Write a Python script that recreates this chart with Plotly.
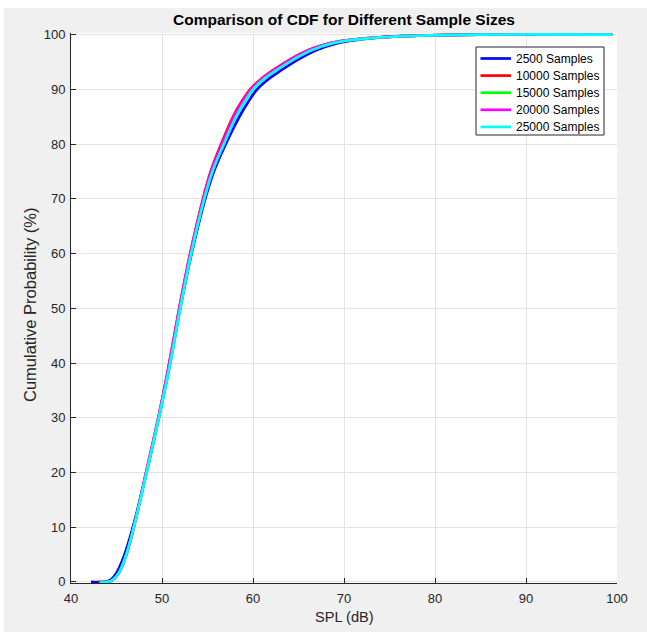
import plotly.graph_objects as go

# Cumulative probability levels (%) shared by all curves
pct = [0, 0, 0.3, 1.5, 4.6, 10, 20, 30, 40, 50, 60, 70, 75, 80, 85, 87.5, 90, 92, 93.5, 95.4, 97.2, 98.4, 98.85, 99.5, 99.8, 100, 100]

# SPL (dB) at each probability level
spl_2500 = [42.2, 43.6, 44.3, 44.95, 45.8, 46.8, 48.3, 49.65, 50.9, 52.0, 53.25, 54.75, 55.7, 57.0, 58.5, 59.4, 60.45, 61.8, 63.1, 64.9, 67.0, 69.2, 70.6, 74.0, 78.0, 84.0, 99.0]
spl_10000 = [43.0, 44.0, 44.5, 45.2, 46.0, 46.9, 48.25, 49.6, 50.8, 51.9, 53.1, 54.5, 55.35, 56.5, 57.8, 58.65, 59.7, 60.95, 62.2, 64.0, 66.1, 68.4, 69.8, 73.8, 78.0, 85.0, 99.5]
spl_15000 = [43.1, 44.0, 44.5, 45.2, 46.0, 46.9, 48.3, 49.65, 50.9, 52.0, 53.2, 54.6, 55.5, 56.7, 58.05, 58.9, 59.9, 61.15, 62.45, 64.2, 66.3, 68.5, 69.9, 74.0, 78.0, 85.0, 99.5]
spl_20000 = [43.1, 44.0, 44.5, 45.2, 46.0, 46.9, 48.25, 49.6, 50.8, 51.9, 53.1, 54.55, 55.4, 56.6, 57.9, 58.75, 59.8, 61.05, 62.3, 64.1, 66.2, 68.4, 69.8, 73.9, 78.0, 85.0, 99.5]
spl_25000 = [43.2, 44.0, 44.5, 45.2, 46.0, 46.9, 48.3, 49.65, 50.9, 52.0, 53.2, 54.65, 55.55, 56.8, 58.15, 59.0, 60.0, 61.3, 62.6, 64.4, 66.5, 68.7, 70.1, 74.0, 78.0, 85.0, 99.5]

series_names = ["2500 Samples", "10000 Samples", "15000 Samples", "20000 Samples", "25000 Samples"]
series_values = [spl_2500, spl_10000, spl_15000, spl_20000, spl_25000]
series_colors = ["#0000ff", "#ff0000", "#00ff00", "#ff00ff", "#00ffff"]

x_ticks = [40, 50, 60, 70, 80, 90, 100]
y_ticks = [0, 10, 20, 30, 40, 50, 60, 70, 80, 90, 100]

FONT = "Liberation Sans, Arial, Helvetica, sans-serif"
AX = "#262626"

W, H = 647, 632
ML, MR, MT, MB = 71, 30, 33, 49
PW, PH = W - ML - MR, H - MT - MB


def px_x(px):
    return (px - ML) / PW


def px_y(py):
    return (H - MB - py) / PH


fig = go.Figure()
for name, xs, col in zip(series_names, series_values, series_colors):
    fig.add_trace(go.Scatter(
        x=xs, y=pct, mode="lines", name=name, showlegend=False,
        line=dict(color=col, width=2.7, shape="spline", smoothing=1.1),
    ))

shapes = [
    # white strips outside the grey figure area
    dict(type="rect", xref="paper", yref="paper", layer="below",
         x0=px_x(-20), x1=px_x(4), y0=px_y(H + 20), y1=px_y(-20),
         fillcolor="#ffffff", line=dict(width=0)),
    dict(type="rect", xref="paper", yref="paper", layer="below",
         x0=px_x(-20), x1=px_x(W + 20), y0=px_y(8), y1=px_y(-20),
         fillcolor="#ffffff", line=dict(width=0)),
    # legend box
    dict(type="rect", xref="paper", yref="paper", layer="above",
         x0=px_x(476), x1=px_x(604), y0=px_y(135), y1=px_y(47),
         fillcolor="#ffffff", line=dict(color=AX, width=1)),
]
annotations = [
    dict(xref="paper", yref="paper", x=px_x(344), y=px_y(617),
         xanchor="center", yanchor="middle", showarrow=False,
         text="SPL (dB)", font=dict(family=FONT, size=14.6, color=AX)),
    dict(xref="paper", yref="paper", x=px_x(30), y=px_y(305),
         xanchor="center", yanchor="middle", showarrow=False, textangle=-90,
         text="Cumulative Probability (%)", font=dict(family=FONT, size=16.5, color=AX)),
]
row0, row_step = 58.5, 17.1
for i, (name, col) in enumerate(zip(series_names, series_colors)):
    yy = row0 + i * row_step
    shapes.append(dict(type="line", xref="paper", yref="paper", layer="above",
                       x0=px_x(480.5), x1=px_x(511), y0=px_y(yy), y1=px_y(yy),
                       line=dict(color=col, width=2.7)))
    annotations.append(dict(xref="paper", yref="paper", x=px_x(513.5), y=px_y(yy),
                            xanchor="left", yanchor="middle", showarrow=False,
                            text=name, font=dict(family=FONT, size=12, color="#000000")))

fig.update_layout(
    width=W, height=H,
    margin=dict(l=ML, r=MR, t=MT, b=MB, autoexpand=False),
    paper_bgcolor="#f0f0f0",
    plot_bgcolor="#ffffff",
    font=dict(family=FONT, size=13, color=AX),
    title=dict(
        text="<b>Comparison of CDF for Different Sample Sizes</b>",
        font=dict(family=FONT, size=15.5, color="#000000"),
        x=0.5, xref="paper", xanchor="center",
        y=1 - 20 / H, yref="container", yanchor="middle",
    ),
    showlegend=False,
    shapes=shapes,
    annotations=annotations,
)

fig.update_xaxes(
    range=[40, 100], tickvals=x_ticks, ticktext=[str(v) for v in x_ticks],
    showgrid=True, gridcolor="#e3e3e3", gridwidth=1,
    showline=True, linecolor=AX, linewidth=1, mirror=False,
    ticks="inside", ticklen=5, tickcolor=AX, tickwidth=1,
    zeroline=False, automargin=False, ticklabelstandoff=3,
    tickfont=dict(family=FONT, size=13, color=AX),
)
fig.update_yaxes(
    range=[-0.2, 100.3], tickvals=y_ticks, ticktext=[str(v) for v in y_ticks],
    showgrid=True, gridcolor="#e3e3e3", gridwidth=1,
    showline=True, linecolor=AX, linewidth=1, mirror=False,
    ticks="inside", ticklen=5, tickcolor=AX, tickwidth=1,
    zeroline=False, automargin=False, ticklabelstandoff=2,
    tickfont=dict(family=FONT, size=13, color=AX),
)

fig.write_html("out.html", config={"displayModeBar": False},
               post_script="document.body.style.margin='0';")
